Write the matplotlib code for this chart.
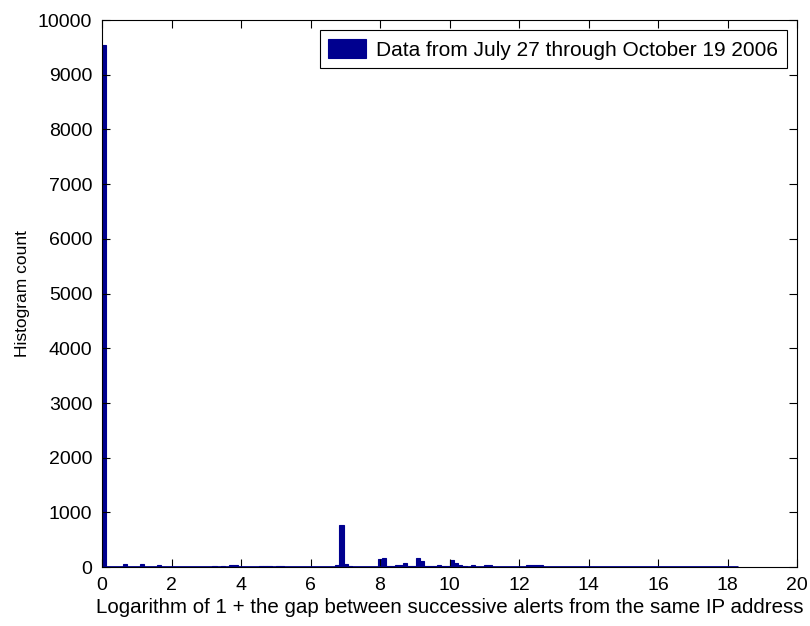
import numpy as np
import matplotlib
matplotlib.use('Agg')
from matplotlib import pyplot as plt

# histogram of log(1 + gap), 150 bins between 0 and 18.3
x_max = 18.3
n_bins = 150
nonzero_bins = [0, 5, 9, 13, 26, 28, 30, 31, 37, 38, 39, 41, 42,
                55, 56, 57, 58, 65, 66, 67, 68, 69, 70, 71, 72, 73,
                74, 75, 76, 77, 78, 79, 80, 81, 82, 83, 84, 85, 87,
                88, 90, 91, 100, 101, 102, 103]
nonzero_counts = [9540, 55, 50, 35, 30, 30, 35, 35, 30, 30, 25, 30, 30,
                  40, 775, 50, 15, 150, 175, 30, 30, 35, 40, 75, 15, 15,
                  175, 105, 30, 25, 30, 45, 20, 20, 135, 70, 40, 20, 45,
                  10, 40, 35, 40, 40, 40, 35]
legend_label = 'Data from July 27 through October 19 2006'

counts = np.zeros(n_bins)
counts[nonzero_bins] = nonzero_counts
edges = np.linspace(0, x_max, n_bins + 1)
centers = (edges[:-1] + edges[1:]) / 2
width = edges[1] - edges[0]

plt.rcParams['font.family'] = ['Liberation Sans', 'DejaVu Sans']
navy = '#00008F'

fig = plt.figure(figsize=(8.1, 6.26), dpi=100)
ax = fig.add_axes([0.126, 0.094, 0.858, 0.874])
ax.bar(centers, counts, width=width, color=navy, edgecolor=navy,
       linewidth=0.8, label=legend_label)
# zero-height bins still show as a line along the bottom
ax.hlines(0, edges[0], edges[-1], color=navy, linewidth=2, zorder=3)
ax.set_xlim(0, 20)
ax.set_ylim(0, 10000)
ax.set_xticks(np.arange(0, 21, 2))
ax.set_yticks(np.arange(0, 10001, 1000))
ax.tick_params(direction='in', top=True, right=True, length=6,
               labelsize=14, width=0.8)
ax.tick_params(axis='x', pad=7)
ax.tick_params(axis='y', pad=7)
for s in ax.spines.values():
    s.set_linewidth(0.8)
    s.set_zorder(4)
ax.set_xlabel('Logarithm of 1 + the gap between successive alerts from the same IP address',
              fontsize=14.8, labelpad=3)
ax.set_ylabel('Histogram count', fontsize=12.5, labelpad=6)
leg = ax.legend(loc='upper right', fontsize=15, fancybox=False,
                framealpha=1, edgecolor='black', handlelength=1.8,
                handleheight=1.05, handletextpad=0.5, borderpad=0.4,
                borderaxespad=0.5)
leg.get_frame().set_linewidth(0.8)

fig.savefig('out.png', dpi=100)
